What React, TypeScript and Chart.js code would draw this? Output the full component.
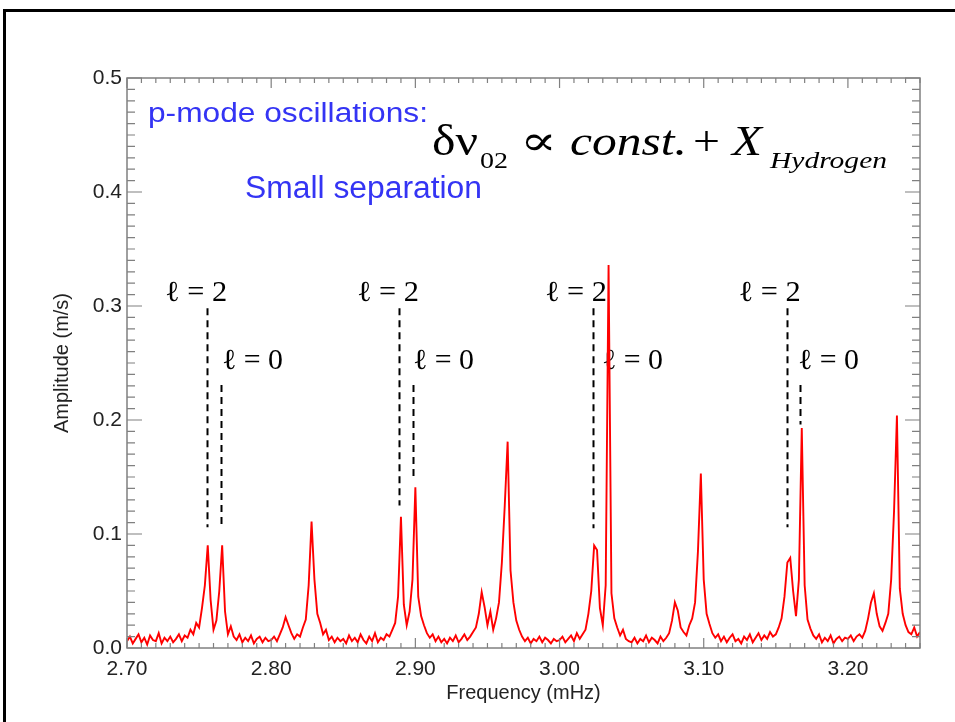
import React, { useEffect, useRef } from "react";
import { Chart, registerables } from "chart.js";
Chart.register(...registerables);

// ---------- data (amplitude in m/s, sampled every 0.002 mHz) ----------
const STEP = 0.002;
const seg270 = [0.006, 0.010, 0.004, 0.008, 0.012, 0.005, 0.009, 0.003, 0.011, 0.007, 0.006, 0.013, 0.004, 0.009, 0.006, 0.010, 0.005, 0.008, 0.012, 0.006, 0.011, 0.009, 0.016, 0.012, 0.022];
const seg275 = [0.018, 0.035, 0.055, 0.090, 0.042, 0.016, 0.024, 0.050, 0.090, 0.032, 0.012, 0.019, 0.010, 0.007, 0.012, 0.005, 0.009, 0.006, 0.011, 0.004, 0.008, 0.010, 0.005, 0.009, 0.006];
const seg280 = [0.007, 0.010, 0.006, 0.012, 0.018, 0.027, 0.020, 0.013, 0.008, 0.012, 0.010, 0.018, 0.025, 0.055, 0.111, 0.060, 0.030, 0.022, 0.012, 0.016, 0.007, 0.010, 0.005, 0.009, 0.006];
const seg285 = [0.008, 0.004, 0.011, 0.006, 0.009, 0.005, 0.012, 0.007, 0.004, 0.010, 0.006, 0.013, 0.005, 0.009, 0.007, 0.012, 0.010, 0.016, 0.022, 0.045, 0.115, 0.038, 0.020, 0.032, 0.060];
const seg290 = [0.141, 0.045, 0.028, 0.020, 0.013, 0.009, 0.012, 0.006, 0.010, 0.005, 0.008, 0.004, 0.009, 0.006, 0.011, 0.005, 0.008, 0.012, 0.007, 0.010, 0.014, 0.018, 0.030, 0.049, 0.036];
const seg295 = [0.020, 0.032, 0.016, 0.026, 0.040, 0.075, 0.125, 0.181, 0.068, 0.040, 0.024, 0.016, 0.010, 0.006, 0.009, 0.004, 0.008, 0.006, 0.010, 0.005, 0.009, 0.007, 0.004, 0.008, 0.006];
const seg300 = [0.007, 0.010, 0.005, 0.008, 0.011, 0.006, 0.013, 0.008, 0.012, 0.016, 0.030, 0.050, 0.090, 0.086, 0.035, 0.020, 0.055, 0.336, 0.048, 0.026, 0.018, 0.011, 0.016, 0.008, 0.006];
const seg305 = [0.005, 0.009, 0.004, 0.008, 0.006, 0.011, 0.005, 0.009, 0.007, 0.004, 0.010, 0.006, 0.009, 0.013, 0.024, 0.040, 0.033, 0.018, 0.014, 0.011, 0.020, 0.026, 0.040, 0.085, 0.153];
const seg310 = [0.060, 0.030, 0.021, 0.013, 0.009, 0.012, 0.006, 0.010, 0.005, 0.009, 0.012, 0.006, 0.008, 0.004, 0.010, 0.007, 0.012, 0.005, 0.009, 0.013, 0.007, 0.011, 0.008, 0.014, 0.010];
const seg315 = [0.012, 0.018, 0.026, 0.045, 0.075, 0.079, 0.050, 0.028, 0.060, 0.193, 0.055, 0.025, 0.017, 0.011, 0.008, 0.012, 0.005, 0.009, 0.006, 0.011, 0.004, 0.008, 0.010, 0.006, 0.009];
const seg320 = [0.008, 0.011, 0.006, 0.010, 0.012, 0.009, 0.015, 0.026, 0.040, 0.048, 0.030, 0.019, 0.015, 0.022, 0.030, 0.060, 0.120, 0.204, 0.052, 0.030, 0.020, 0.014, 0.012, 0.018, 0.010, 0.014];
const segmentStarts = [2.70, 2.75, 2.80, 2.85, 2.90, 2.95, 3.00, 3.05, 3.10, 3.15, 3.20];
const segmentValues = [seg270, seg275, seg280, seg285, seg290, seg295, seg300, seg305, seg310, seg315, seg320];

const xTickValues = [2.7, 2.8, 2.9, 3.0, 3.1, 3.2];
const yTickValues = [0, 0.1, 0.2, 0.3, 0.4, 0.5];

// mode identification markers (frequency in mHz, amplitudes in m/s)
const l2Freqs = [2.7555, 2.8886, 3.0232, 3.1577];
const l2DashTop = 0.298;
const l2DashBottom = [0.106, 0.125, 0.105, 0.106];
const l0Freqs = [2.7652, 2.8983, NaN, 3.1667];
const l0DashTop = 0.2307;
const l0DashBottom = [0.105, 0.147, NaN, 0.196];
const l2LabelFreqs = [2.7264, 2.8595, 2.9899, 3.1242];
const l2LabelAmp = 0.3044;
const l0LabelFreqs = [2.7659, 2.8983, 3.0294, 3.1653];
const l0LabelAmp = 0.2447;

const SANS = '"Liberation Sans", Arial, sans-serif';
const SERIF = '"Liberation Serif", "Times New Roman", "DejaVu Serif", serif';

function drawFit(ctx: CanvasRenderingContext2D, text: string, x: number, y: number, font: string, width: number, color: string) {
  ctx.save();
  ctx.font = font;
  const w = ctx.measureText(text).width || 1;
  ctx.translate(x, y);
  ctx.scale(width / w, 1);
  ctx.fillStyle = color;
  ctx.textBaseline = "alphabetic";
  ctx.textAlign = "left";
  ctx.fillText(text, 0, 0);
  ctx.restore();
}

const decorPlugin = {
  id: "decor",
  beforeDraw(chart: any) {
    const ctx = chart.ctx as CanvasRenderingContext2D;
    ctx.save();
    ctx.fillStyle = "#000";
    ctx.fillRect(3, 9, 960, 3);
    ctx.fillRect(3, 9, 3, 730);
    ctx.restore();
  },
  beforeDatasetsDraw(chart: any) {
    const ctx = chart.ctx as CanvasRenderingContext2D;
    const xs = chart.scales.x;
    const ys = chart.scales.y;
    // dashed marker lines
    ctx.save();
    ctx.strokeStyle = "#000";
    ctx.lineWidth = 2;
    ctx.setLineDash([7, 5]);
    const dash = (f: number, a0: number, a1: number) => {
      if (!isFinite(f) || !isFinite(a1)) return;
      const x = Math.round(xs.getPixelForValue(f)) + 0.5;
      ctx.beginPath();
      ctx.moveTo(x, ys.getPixelForValue(a0));
      ctx.lineTo(x, ys.getPixelForValue(a1));
      ctx.stroke();
    };
    l2Freqs.forEach((f, i) => dash(f, l2DashTop, l2DashBottom[i]));
    l0Freqs.forEach((f, i) => dash(f, l0DashTop, l0DashBottom[i]));
    ctx.restore();
    // labels
    l2LabelFreqs.forEach((f) => drawFit(ctx, "\u2113 = 2", xs.getPixelForValue(f), ys.getPixelForValue(l2LabelAmp), `29px ${SERIF}`, 62, "#000"));
    l0LabelFreqs.forEach((f) => drawFit(ctx, "\u2113 = 0", xs.getPixelForValue(f), ys.getPixelForValue(l0LabelAmp), `29px ${SERIF}`, 61, "#000"));
    // blue notes
    drawFit(ctx, "p-mode oscillations:", 148, 122, `27px ${SANS}`, 280, "#3434f4");
    drawFit(ctx, "Small separation", 245, 198, `31px ${SANS}`, 237, "#3434f4");
    // formula
    drawFit(ctx, "\u03B4\u03BD", 432, 155, `45px ${SERIF}`, 46, "#000");
    drawFit(ctx, "02", 480, 168, `24px ${SERIF}`, 28, "#000");
    drawFit(ctx, "\u221D", 520, 155, `42px ${SERIF}`, 37, "#000");
    drawFit(ctx, "const.", 570, 155, `italic 42px ${SERIF}`, 117, "#000");
    drawFit(ctx, "+", 693, 155, `42px ${SERIF}`, 27, "#000");
    drawFit(ctx, "X", 732, 155, `italic 42px ${SERIF}`, 30, "#000");
    drawFit(ctx, "Hydrogen", 770, 168, `italic 24px ${SERIF}`, 117, "#000");
  },
  afterDatasetsDraw(chart: any) {
    const ctx = chart.ctx as CanvasRenderingContext2D;
    const { left, right, top, bottom } = chart.chartArea;
    const xs = chart.scales.x;
    const ys = chart.scales.y;
    ctx.save();
    ctx.strokeStyle = "#808080";
    ctx.lineWidth = 1.5;
    ctx.strokeRect(left, top, right - left, bottom - top);
    ctx.lineWidth = 1.2;
    ctx.beginPath();
    for (let k = 270; k <= 325; k++) {
      const x = xs.getPixelForValue(k / 100);
      const len = k % 10 === 0 ? 10 : 5;
      ctx.moveTo(x, bottom);
      ctx.lineTo(x, bottom - len);
      ctx.moveTo(x, top);
      ctx.lineTo(x, top + len);
    }
    for (let k = 0; k <= 50; k++) {
      const y = ys.getPixelForValue(k / 100);
      const len = k % 10 === 0 ? 15 : 8;
      ctx.moveTo(left, y);
      ctx.lineTo(left + len, y);
      ctx.moveTo(right, y);
      ctx.lineTo(right - len, y);
    }
    ctx.stroke();
    ctx.restore();
  },
};

export default function App() {
  const ref = useRef<HTMLCanvasElement | null>(null);
  useEffect(() => {
    if (!ref.current) return;
    const points: { x: number; y: number }[] = [];
    segmentStarts.forEach((f0, s) => {
      segmentValues[s].forEach((a, i) => points.push({ x: +(f0 + i * STEP).toFixed(3), y: a }));
    });
    const chart = new Chart(ref.current, {
      type: "line",
      data: {
        datasets: [
          {
            data: points,
            borderColor: "#ff0000",
            borderWidth: 1.9,
            pointRadius: 0,
            fill: false,
            tension: 0,
          },
        ],
      },
      options: {
        responsive: false,
        animation: false,
        devicePixelRatio: 1,
        layout: { padding: { top: 78, right: 35, left: 0, bottom: 0 } },
        plugins: { legend: { display: false }, tooltip: { enabled: false }, title: { display: false } },
        scales: {
          x: {
            type: "linear",
            min: 2.7,
            max: 3.25,
            grid: { display: false, drawTicks: false },
            border: { display: false },
            afterBuildTicks: (s: any) => {
              s.ticks = xTickValues.map((v) => ({ value: v }));
            },
            afterFit: (s: any) => {
              s.height = 74;
            },
            ticks: {
              autoSkip: false,
              maxRotation: 0,
              padding: 9,
              color: "#222",
              font: { family: SANS, size: 21 },
              callback: (v: any) => Number(v).toFixed(2),
            },
            title: {
              display: true,
              text: "Frequency (mHz)",
              color: "#222",
              font: { family: SANS, size: 20 },
              padding: { top: 0, bottom: 17 },
            },
          },
          y: {
            type: "linear",
            min: 0,
            max: 0.5,
            grid: { display: false, drawTicks: false },
            border: { display: false },
            afterBuildTicks: (s: any) => {
              s.ticks = yTickValues.map((v) => ({ value: v }));
            },
            afterFit: (s: any) => {
              s.width = 127;
            },
            ticks: {
              autoSkip: false,
              padding: 5,
              color: "#222",
              font: { family: SANS, size: 21 },
              callback: (v: any) => Number(v).toFixed(1),
            },
            title: {
              display: true,
              text: "Amplitude (m/s)",
              color: "#222",
              font: { family: SANS, size: 20 },
              padding: { top: 50, bottom: 0 },
            },
          },
        },
      },
      plugins: [decorPlugin],
    });
    return () => chart.destroy();
  }, []);
  return (
    <div style={{ position: "fixed", left: 0, top: 0, width: 955, height: 722, background: "#fff" }}>
      <canvas ref={ref} width={955} height={722} style={{ width: "955px", height: "722px", display: "block" }} />
    </div>
  );
}
